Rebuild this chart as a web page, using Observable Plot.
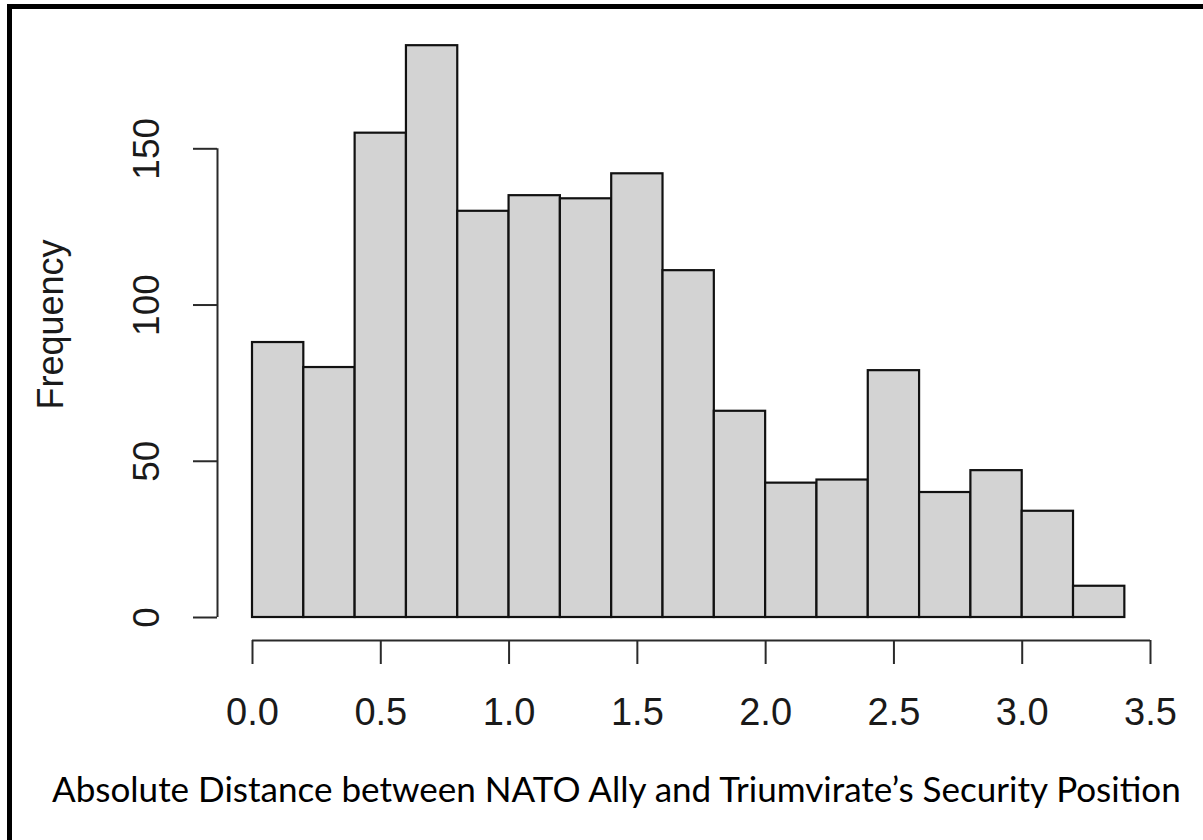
<!DOCTYPE html>
<html>
<head>
<meta charset="utf-8">
<script src="https://cdn.jsdelivr.net/npm/d3@7"></script>
<script src="https://cdn.jsdelivr.net/npm/@observablehq/plot@0.6"></script>
<style>
  html, body { margin: 0; padding: 0; background: #fff; width: 1203px; height: 840px; overflow: hidden; }
  #page { position: relative; width: 1203px; height: 840px; }
  #frame { position: absolute; left: 7px; top: 4px; width: 1300px; height: 900px;
           border-top: 5px solid #000; border-left: 5px solid #000; pointer-events: none; }
  #chart svg { display: block; }
  #caption { font-family: Lato, "Open Sans", sans-serif; color: #000; white-space: nowrap;
             padding-left: 52px; line-height: 1; }
</style>
</head>
<body>
<div id="page">
  <div id="chart"></div>
  <div id="caption"></div>
  <div id="frame"></div>
</div>
<script>
// Histogram bins: edges and counts per bin
const binEdges = [0.0, 0.2, 0.4, 0.6, 0.8, 1.0, 1.2, 1.4, 1.6, 1.8, 2.0, 2.2, 2.4, 2.6, 2.8, 3.0, 3.2, 3.4];
const counts   = [88, 80, 155, 183, 130, 135, 134, 142, 111, 66, 43, 44, 79, 40, 47, 34, 10];

// Axis ticks and labels
const xTicks = [0.0, 0.5, 1.0, 1.5, 2.0, 2.5, 3.0, 3.5];
const xTickLabels = ["0.0", "0.5", "1.0", "1.5", "2.0", "2.5", "3.0", "3.5"];
const yTicks = [0, 50, 100, 150];
const yTickLabels = ["0", "50", "100", "150"];

const yTitle = "Frequency";
const xTitle = "Absolute Distance between NATO Ally and Triumvirate\u2019s Security Position";

const W = 1203, H = 740;
const bottomY = 617;   // pixel position of the zero baseline
const axisGap = 23;    // R-style offset of the axes from the plot region
const tickLen = 24;
const ink = "#111";
const axisInk = "#2a2a2a";

const chart = Plot.plot({
  width: W,
  height: H,
  marginLeft: 252,
  marginRight: W - 1150,
  marginTop: 148.3,
  marginBottom: H - bottomY,
  x: { domain: [xTicks[0], xTicks[xTicks.length - 1]], axis: null },
  y: { domain: [yTicks[0], yTicks[yTicks.length - 1]], axis: null },
  style: { background: "transparent", fontFamily: "'Liberation Sans', Arial, Helvetica, sans-serif", color: "#1a1a1a" },
  marks: [
    // bars
    Plot.rect(counts, {
      x1: (d, i) => binEdges[i],
      x2: (d, i) => binEdges[i + 1],
      y1: 0,
      y2: d => d,
      fill: "#d3d3d3",
      stroke: ink,
      strokeWidth: 2.2
    }),
    // x axis line and ticks
    Plot.ruleY([0], { x1: xTicks[0], x2: xTicks[xTicks.length - 1], dy: axisGap, stroke: axisInk, strokeWidth: 2 }),
    Plot.ruleX(xTicks, { y1: 0, y2: 0, insetBottom: -tickLen, dy: axisGap, stroke: axisInk, strokeWidth: 2 }),
    Plot.text(xTicks, {
      x: d => d, text: (d, i) => xTickLabels[i],
      frameAnchor: "bottom", lineAnchor: "top", dy: axisGap + tickLen + 34,
      fontSize: 38, fill: "#1a1a1a"
    }),
    // y axis line and ticks
    Plot.ruleX([0], { y1: yTicks[0], y2: yTicks[yTicks.length - 1], dx: -35, stroke: axisInk, strokeWidth: 2 }),
    Plot.ruleY(yTicks, { x1: 0, x2: 0, insetLeft: -tickLen, dx: -35, stroke: axisInk, strokeWidth: 2 }),
    Plot.text(yTicks, {
      y: d => d, text: (d, i) => yTickLabels[i],
      frameAnchor: "left", textAnchor: "middle", dx: -105, rotate: -90,
      fontSize: 37, fill: "#1a1a1a"
    }),
    // y axis title
    Plot.text([yTitle], {
      text: d => d, frameAnchor: "left", textAnchor: "middle", dx: -201, dy: -58.6, rotate: -90,
      fontSize: 36, fill: "#1a1a1a"
    })
  ]
});
document.getElementById("chart").appendChild(chart);

// Caption below the chart, sized to span its full width
const cap = document.getElementById("caption");
cap.textContent = xTitle;
const ctx = document.createElement("canvas").getContext("2d");
ctx.font = "100px Lato";
const w100 = ctx.measureText(xTitle).width;
const fs = 100 * 1133 / w100;
cap.style.fontSize = fs.toFixed(2) + "px";
cap.style.marginTop = (802 - H - 0.887 * fs) + "px";
</script>
</body>
</html>
